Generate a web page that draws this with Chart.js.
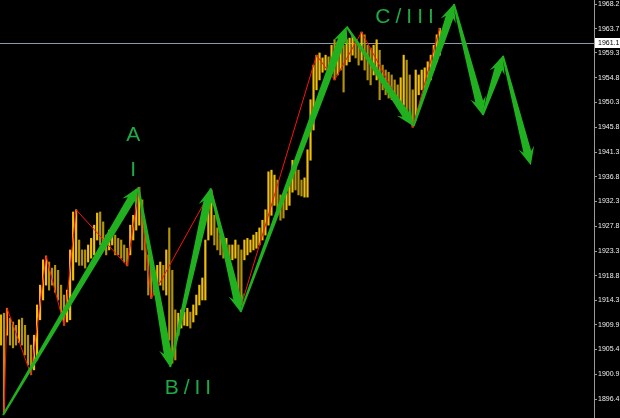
<!DOCTYPE html>
<html>
<head>
<meta charset="utf-8">
<script src="https://cdn.jsdelivr.net/npm/chart.js@4/dist/chart.umd.min.js"></script>
<style>
html,body{margin:0;padding:0;background:#000;overflow:hidden;}
#wrap{width:620px;height:418px;}
</style>
</head>
<body>
<div id="wrap"><canvas id="c" width="620" height="418"></canvas></div>
<script>
// ---- data (prices) ----
const barHighs = [1911.7,1912.0,1912.9,1911.1,1910.4,1909.8,1910.8,1911.1,1909.8,1908.0,
1906.2,1908.0,1913.5,1917.1,1921.7,1922.4,1921.3,1920.2,1920.7,1919.8,
1917.1,1915.3,1916.2,1923.5,1930.4,1930.8,1925.3,1923.5,1923.5,1924.4,
1925.6,1928.0,1930.2,1930.4,1928.6,1926.2,1927.1,1927.5,1926.2,1925.6,
1925.3,1924.4,1923.8,1928.0,1929.8,1934.4,1934.9,1932.6,1927.1,1922.6,
1920.7,1919.8,1920.7,1921.3,1920.7,1923.5,1927.5,1919.8,1912.6,1912.0,
1912.6,1912.2,1912.9,1912.2,1913.5,1915.3,1917.1,1918.4,1925.3,1932.6,
1934.4,1929.8,1927.5,1926.2,1925.3,1925.6,1924.4,1924.4,1925.3,1924.4,
1923.5,1925.3,1925.6,1925.3,1926.2,1926.7,1927.5,1928.9,1930.8,1937.7,
1938.0,1937.1,1936.2,1933.5,1932.9,1933.8,1936.2,1939.8,1938.9,1938.0,
1936.2,1936.6,1941.7,1950.8,1957.1,1958.9,1959.3,1958.4,1958.9,1958.6,
1960.7,1961.7,1961.3,1962.6,1960.7,1961.7,1962.0,1962.4,1961.7,1960.7,
1963.1,1962.6,1960.7,1960.2,1960.7,1961.7,1959.8,1957.1,1956.2,1955.8,
1955.3,1954.4,1953.5,1954.8,1958.9,1958.0,1955.3,1952.6,1956.2,1955.3,
1956.2,1956.6,1957.7,1958.9,1960.7,1962.6,1963.8];
const barLows = [1906.2,1893.8,1908.0,1906.2,1905.7,1906.2,1906.7,1906.2,1904.4,1902.6,
1900.8,1901.7,1903.5,1910.8,1914.4,1917.1,1916.2,1917.1,1915.8,1914.4,
1912.2,1909.8,1910.4,1910.8,1918.0,1921.3,1920.7,1920.7,1920.2,1921.3,
1922.0,1922.6,1925.3,1924.4,1923.5,1922.6,1923.5,1924.4,1922.6,1922.6,
1922.0,1921.3,1920.6,1922.6,1925.3,1927.1,1928.0,1923.5,1919.8,1915.3,
1914.7,1915.3,1916.2,1917.1,1916.2,1915.3,1907.1,1902.9,1903.5,1908.0,
1909.3,1909.8,1909.7,1909.3,1910.4,1911.7,1913.5,1914.4,1914.4,1925.3,
1926.2,1924.4,1923.5,1922.6,1922.0,1922.6,1921.3,1921.7,1922.0,1914.4,
1913.5,1921.7,1922.6,1923.1,1923.5,1923.8,1924.4,1925.3,1926.2,1928.0,
1929.8,1931.6,1930.4,1928.9,1929.3,1930.8,1931.6,1934.0,1934.4,1933.5,
1933.3,1933.1,1933.1,1939.8,1945.3,1952.6,1954.4,1955.8,1956.2,1955.3,
1955.8,1954.4,1955.3,1956.2,1952.2,1957.1,1957.7,1958.9,1958.4,1957.1,
1958.0,1956.2,1954.4,1953.5,1955.3,1954.4,1950.8,1952.6,1951.7,1951.1,
1950.8,1950.8,1949.8,1948.9,1949.8,1947.5,1948.0,1945.8,1947.1,1951.7,
1952.6,1952.9,1953.5,1954.4,1956.2,1957.7,1958.9];
const zigzagIdx   = [1, 2, 10, 15, 21, 25, 42, 46, 50, 70, 80, 105, 111, 120, 137, 146];
const zigzagPrice = [1893.8,1912.9,1900.8,1922.4,1909.8,1930.8,1920.6,1934.9,1914.7,1934.4,1913.5,1958.9,1954.4,1963.1,1945.8,1963.8];
const waveIdx   = [0.7, 45.7, 56.3, 69.7, 79.7, 115.0, 137.3, 150.7, 160.3, 167.0, 176.3];
const wavePrice = [1893.5,1934.9,1902.2,1934.7,1912.2,1964.1,1946.0,1968.2,1948.0,1958.8,1938.9];
const waveLabels = ["A", "I", "B/II", "C/III"];
const waveLabelIdx = [44, 44, 62.2, 134.3];
const waveLabelPrice = [1944.4, 1938.0, 1898.4, 1965.8];
const priceTicks = [1968.2,1963.7,1959.3,1954.8,1950.3,1945.8,1941.3,1936.8,1932.3,1927.8,1923.3,1918.8,1914.3,1909.9,1905.4,1900.9,1896.4];
const currentPrice = 1961.1;

// ---- styles ----
const GREEN = '#20b020';
const LABEL_GREEN = '#1eab46';

const barData = barHighs.map((h, i) => ({x: i, y: [barLows[i], h]}));
const barColors = barHighs.map((h, i) => {
  if (i === 0) return '#e3b20c';
  return (h + barLows[i]) >= (barHighs[i-1] + barLows[i-1]) ? '#f0bf0a' : '#b3930c';
});
const zzData = zigzagIdx.map((x, i) => ({x, y: zigzagPrice[i]}));

const bgPlugin = {
  id: 'bg',
  beforeDraw(chart) {
    const ctx = chart.ctx;
    ctx.save(); ctx.fillStyle = '#000'; ctx.fillRect(0, 0, chart.width, chart.height); ctx.restore();
  },
  beforeDatasetsDraw(chart) {
    const {ctx, chartArea, scales} = chart;
    const y = Math.round(scales.y.getPixelForValue(currentPrice)) + 0.5;
    ctx.save();
    ctx.strokeStyle = '#8a9aaa'; ctx.lineWidth = 1;
    ctx.beginPath(); ctx.moveTo(chartArea.left, y); ctx.lineTo(chartArea.right + 3, y); ctx.stroke();
    ctx.restore();
  },
  afterDatasetsDraw(chart) {
    const {ctx, scales} = chart;
    const xs = scales.x, ys = scales.y;
    ctx.save();
    ctx.fillStyle = GREEN;
    for (let i = 0; i < waveIdx.length - 1; i++) {
      const x0 = xs.getPixelForValue(waveIdx[i]), y0 = ys.getPixelForValue(wavePrice[i]);
      const x1 = xs.getPixelForValue(waveIdx[i+1]), y1 = ys.getPixelForValue(wavePrice[i+1]);
      const dx = x1 - x0, dy = y1 - y0, len = Math.hypot(dx, dy);
      const ux = dx/len, uy = dy/len, nx = -uy, ny = ux;
      const headL = 18, headW = 8, w0 = 1, w1 = 4;
      const bx = x1 - ux*headL, by = y1 - uy*headL;
      const bx2 = x1 - ux*(headL-4), by2 = y1 - uy*(headL-4);
      ctx.beginPath();
      ctx.moveTo(x0 + nx*w0, y0 + ny*w0);
      ctx.lineTo(bx2 + nx*w1, by2 + ny*w1);
      ctx.lineTo(bx + nx*headW, by + ny*headW);
      ctx.lineTo(x1, y1);
      ctx.lineTo(bx - nx*headW, by - ny*headW);
      ctx.lineTo(bx2 - nx*w1, by2 - ny*w1);
      ctx.lineTo(x0 - nx*w0, y0 - ny*w0);
      ctx.closePath();
      ctx.fill();
    }
    // labels
    ctx.fillStyle = LABEL_GREEN;
    ctx.font = '21px "Liberation Sans", Arial, sans-serif';
    ctx.textAlign = 'center';
    ctx.textBaseline = 'middle';
    try { ctx.letterSpacing = '5px'; } catch(e) {}
    waveLabels.forEach((t, i) => {
      const x = xs.getPixelForValue(waveLabelIdx[i]);
      const y = ys.getPixelForValue(waveLabelPrice[i]);
      ctx.fillText(t, x + 2.5, y);
    });
    ctx.restore();
  },
  afterDraw(chart) {
    const {ctx, chartArea, scales} = chart;
    const y = Math.round(scales.y.getPixelForValue(currentPrice));
    ctx.save();
    ctx.fillStyle = '#ffffff';
    ctx.fillRect(chartArea.right + 1, y - 5, 26, 10);
    ctx.fillStyle = '#000000';
    ctx.font = '7px "Liberation Sans", Arial, sans-serif';
    ctx.textAlign = 'left'; ctx.textBaseline = 'middle';
    ctx.fillText(currentPrice.toFixed(1), chartArea.right + 4, y + 0.5);
    ctx.restore();
  }
};

new Chart(document.getElementById('c'), {
  data: {
    datasets: [
      {type: 'bar', data: barData, backgroundColor: barColors, borderWidth: 0, barThickness: 1.5, order: 2},
      {type: 'line', data: zzData, borderColor: '#ff1010', borderWidth: 1, pointRadius: 0, tension: 0, order: 1}
    ]
  },
  options: {
    responsive: false,
    animation: false,
    devicePixelRatio: 1,
    layout: {padding: 0},
    plugins: {legend: {display: false}, tooltip: {enabled: false}},
    scales: {
      x: {type: 'linear', display: false, min: -0.33, max: 197.33, offset: false},
      y: {
        position: 'right',
        min: 1892.95, max: 1968.93,
        afterBuildTicks(scale) { scale.ticks = priceTicks.map(v => ({value: v})); },
        afterFit(scale) { scale.width = 26; scale.paddingTop = 0; scale.paddingBottom = 0; },
        grid: {drawOnChartArea: false, drawTicks: true, tickLength: 3, color: '#9a9a9a'},
        border: {display: true, color: '#9a9a9a', width: 1},
        ticks: {
          color: '#f0f0f0', padding: 1, font: {size: 7, family: '"Liberation Sans", Arial, sans-serif'},
          callback: (v) => Number(v).toFixed(1)
        }
      }
    }
  },
  plugins: [bgPlugin]
});
</script>
</body>
</html>
